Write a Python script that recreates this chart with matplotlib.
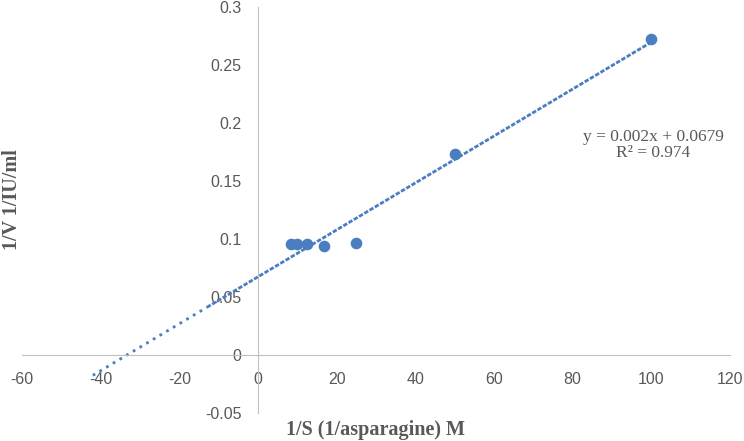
import numpy as np
import matplotlib
matplotlib.use("Agg")
import matplotlib.pyplot as plt

# 1/S and 1/V readings
inv_s = [8.33, 10, 12.5, 16.67, 25, 50, 100]
inv_v = [0.0955, 0.0955, 0.0955, 0.094, 0.0965, 0.173, 0.272]
x_ticks = [-60, -40, -20, 0, 20, 40, 60, 80, 100, 120]
y_ticks = [-0.05, 0, 0.05, 0.1, 0.15, 0.2, 0.25, 0.3]
trend_start, trend_split = -42, -13
eq_text = "y = 0.002x + 0.0679\nR² = 0.974"

blue = '#4a7ec0'
grey_txt = '#595959'
grey_ax = '#bfbfbf'

fig = plt.figure(figsize=(7.44, 4.41), dpi=100)
ax = fig.add_axes([22/744, 1 - 413/441, (730-22)/744, (413-7)/441])

slope, icpt = np.polyfit(inv_s, inv_v, 1)
xl = np.array([trend_start, trend_split])
xr = np.array([trend_split, max(inv_s)])
ax.plot(xl, slope*xl + icpt, color=blue, lw=2, ls=(0, (1, 1.8)), zorder=2)
ax.plot(xr, slope*xr + icpt, color=blue, lw=2, ls=(0, (1.6, 0.6)), zorder=2)
ax.scatter(inv_s, inv_v, s=70, color=blue, zorder=3, linewidths=0)

ax.set_xlim(-60, 120)
ax.set_ylim(-0.05, 0.3)
ax.set_xticks(x_ticks)
ax.set_yticks(y_ticks)
ax.set_xticklabels([str(t) for t in x_ticks])
ax.set_yticklabels(['-0.05', '0', '0.05', '0.1', '0.15', '0.2', '0.25', '0.3'])

ax.spines['left'].set_position(('data', 0))
ax.spines['bottom'].set_position(('data', 0))
ax.spines['right'].set_visible(False)
ax.spines['top'].set_visible(False)
ax.spines['left'].set_color(grey_ax)
ax.spines['bottom'].set_color(grey_ax)
ax.tick_params(length=0, labelsize=11.5, labelcolor=grey_txt)
ax.tick_params(axis='x', pad=12.5)
ax.tick_params(axis='y', pad=12)
for lab in ax.get_xticklabels() + ax.get_yticklabels():
    lab.set_family('Liberation Sans')
ax.patch.set_alpha(0)

ax.text(100.5, 0.181, eq_text, ha='center', va='center', color=grey_txt,
        family='Liberation Serif', fontsize=12.5, linespacing=1.05)

fig.text(376/744, 1 - 430/441, '1/S (1/asparagine) M', ha='center', va='center',
         family='Liberation Serif', fontweight='bold', fontsize=14.5, color=grey_txt)
fig.text(12/744, 1 - 200/441, '1/V 1/IU/ml', ha='center', va='center', rotation=90,
         family='Liberation Serif', fontweight='bold', fontsize=14.5, color=grey_txt)

fig.savefig('out.png', dpi=100)
